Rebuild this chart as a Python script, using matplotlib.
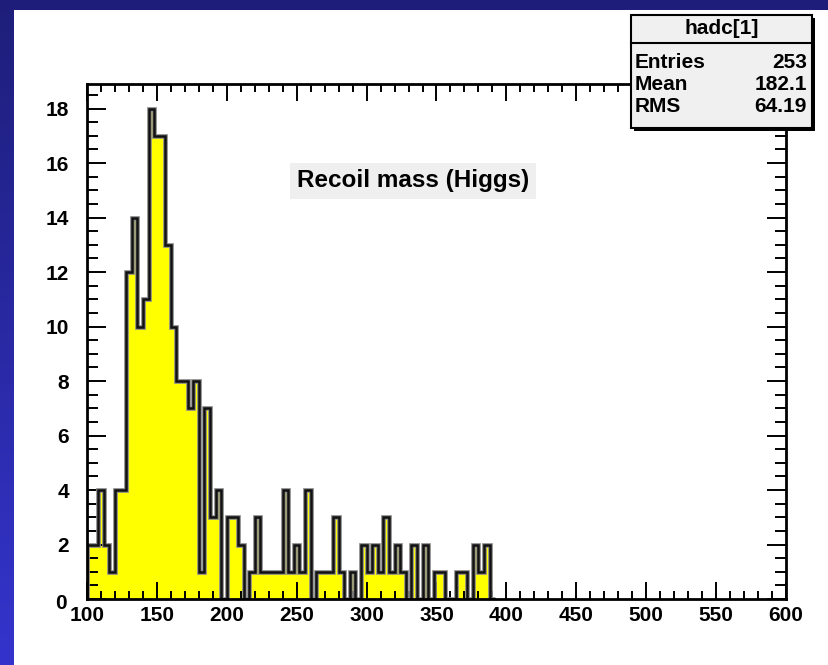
import numpy as np
import matplotlib

matplotlib.use('Agg')
import matplotlib.pyplot as plt
from matplotlib.patches import Rectangle
from matplotlib.ticker import MultipleLocator, FuncFormatter

plt.rcParams['font.family'] = ['Liberation Sans', 'DejaVu Sans']
plt.rcParams['font.weight'] = 'bold'

# recoil mass histogram, 4 GeV bins starting at 100
bin_start = 100
bin_width = 4
counts = [2, 2, 4, 2, 1, 4, 4, 12, 14, 10, 11, 18, 17, 17, 13, 10, 8, 8, 7, 8,
          1, 7, 3, 4, 0,
          3, 3, 2, 0, 1, 3, 1, 1, 1, 1,
          4, 1, 2, 1, 4, 0, 1, 1, 1, 3, 1, 0, 1, 0,
          2, 1, 2, 1, 3, 1, 2, 1, 0, 2, 0, 2, 0, 1, 1, 0, 0, 1, 1, 0, 2, 1, 2, 0]
x_range = (100, 600)
x_ticks = [100, 150, 200, 250, 300, 350, 400, 450, 500, 550, 600]
y_ticks = [0, 2, 4, 6, 8, 10, 12, 14, 16, 18]

hist_title = 'Recoil mass (Higgs)'
stats_name = 'hadc[1]'
stats_rows = [('Entries', '253'), ('Mean', '182.1'), ('RMS', '64.19')]

W, H = 829, 665
fig = plt.figure(figsize=(W / 100, H / 100), dpi=100)
fig.patch.set_facecolor('white')


def fx(px):
    return px / W


def fy(py):
    return 1 - py / H


# blue frame with a vertical gradient
bg = fig.add_axes([0, 0, 1, 1])
bg.set_axis_off()
top_col = np.array([30, 30, 122]) / 255.0
bot_col = np.array([52, 52, 205]) / 255.0
t = np.linspace(0, 1, 256)[:, None]
grad = (top_col[None, :] * (1 - t) + bot_col[None, :] * t)[:, None, :]
bg.imshow(grad, aspect='auto', extent=[0, 1, 0, 1], origin='upper')
bg.set_xlim(0, 1)
bg.set_ylim(0, 1)
bg.add_patch(Rectangle((fx(14), 0), 1 - fx(14), fy(10), facecolor='white',
                       edgecolor='none'))

ax = fig.add_axes([fx(87), fy(599), fx(786 - 87), (599 - 84) / H])
ax.set_facecolor('white')

counts = np.array(counts)
edges = bin_start + bin_width * np.arange(len(counts) + 1)
ax.stairs(counts, edges, fill=True, color='#ffff00', zorder=1)
ax.stairs(counts, edges, color='#8a8a8a', lw=3.4, zorder=2)
ax.stairs(counts, edges, color='#111111', lw=1.8, zorder=3)

ax.set_xlim(*x_range)
ax.set_ylim(0, counts.max() * 1.05)

ax.set_xticks(x_ticks)
ax.set_yticks(y_ticks)
ax.xaxis.set_minor_locator(MultipleLocator(10))
ax.yaxis.set_minor_locator(MultipleLocator(0.5))
ax.yaxis.set_major_formatter(FuncFormatter(lambda v, p: '' if v == 0 else '%d' % v))

ax.tick_params(which='both', direction='in', top=True, right=True, width=1.4,
               colors='black', labelsize=15)
ax.tick_params(axis='x', which='major', length=12, pad=5)
ax.tick_params(axis='x', which='minor', length=6)
ax.tick_params(axis='y', which='major', length=14, pad=13)
ax.tick_params(axis='y', which='minor', length=8)
for lab in ax.get_xticklabels() + ax.get_yticklabels():
    lab.set_fontweight('bold')
for sp in ax.spines.values():
    sp.set_linewidth(2)
    sp.set_zorder(5)

# ROOT puts the y zero next to the x origin
ax.annotate('0', xy=(0, 0), xycoords='axes fraction', xytext=(-19, -3),
            textcoords='offset points', ha='center', va='center',
            fontsize=15, fontweight='bold')

fig.text(fx(413), fy(181), hist_title, ha='center', va='center', fontsize=17.5,
         fontweight='bold',
         bbox=dict(boxstyle='square,pad=0.28', facecolor='#efefef',
                   edgecolor='none'))

# statistics box
bx0, bx1, by0, by1 = 631, 812, 15, 128
fig.patches.append(Rectangle((fx(bx0 + 3), fy(by1 + 3)), fx(bx1 - bx0),
                             (by1 - by0) / H, transform=fig.transFigure,
                             facecolor='black', edgecolor='none', zorder=10))
fig.patches.append(Rectangle((fx(bx0), fy(by1)), fx(bx1 - bx0), (by1 - by0) / H,
                             transform=fig.transFigure, facecolor='#f0f0f0',
                             edgecolor='black', lw=1.5, zorder=11))
fig.lines.append(plt.Line2D([fx(bx0), fx(bx1)], [fy(43), fy(43)],
                            transform=fig.transFigure, color='black', lw=1.5,
                            zorder=12))
fig.text(fx((bx0 + bx1) / 2), fy(29), stats_name, ha='center', va='center',
         fontsize=15, fontweight='bold', zorder=13)
for i, (name, val) in enumerate(stats_rows):
    yy = fy(62 + i * 22.5)
    fig.text(fx(635), yy, name, ha='left', va='center', fontsize=15,
             fontweight='bold', zorder=13)
    fig.text(fx(807), yy, val, ha='right', va='center', fontsize=15,
             fontweight='bold', zorder=13)

fig.savefig('out.png', dpi=100)
plt.close('all')
